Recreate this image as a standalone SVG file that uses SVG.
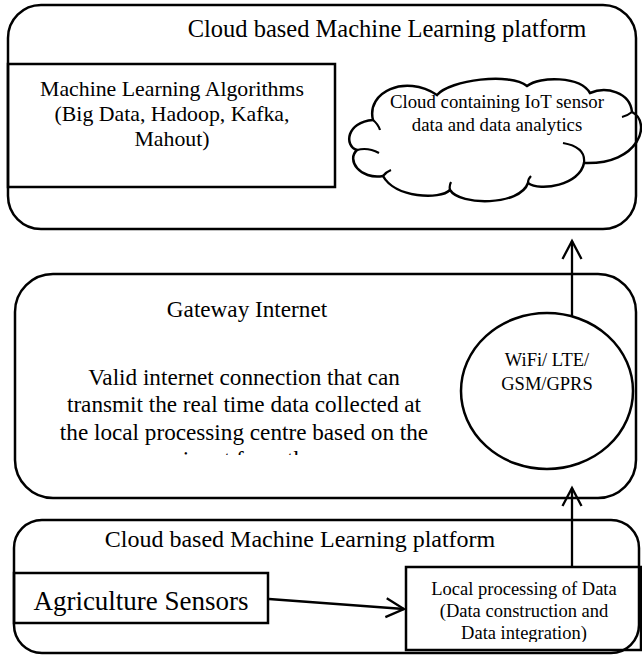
<svg xmlns="http://www.w3.org/2000/svg" width="642" height="655" viewBox="0 0 642 655">
  <style>
    .box { fill: none; stroke: #000; stroke-width: 2.5; }
    .seam { fill: none; stroke: #000; stroke-width: 2.2; }
    .wire { fill: none; stroke: #000; stroke-width: 2.3; }
    .t { font-family: "Liberation Serif", "Times New Roman", serif; fill: #000; text-anchor: middle; }
  </style>
  <defs>
    <marker id="vhead" viewBox="-21 -12 24 24" refX="0" refY="0" markerWidth="24" markerHeight="24" markerUnits="userSpaceOnUse" orient="auto">
      <path d="M-18,-9.5 L0,0 L-18,9.5" fill="none" stroke="#000" stroke-width="2.3"/>
    </marker>
    <clipPath id="bodyClip">
      <rect x="20" y="330" width="440" height="125"/>
    </clipPath>
    <clipPath id="localClip">
      <rect x="406" y="567" width="236" height="75"/>
    </clipPath>
  </defs>
  <rect width="642" height="655" fill="#fff"/>

  <!-- upper tier: cloud ML platform -->
  <g id="ml-platform">
    <rect class="box" x="8" y="5" width="628" height="224" rx="33"/>
    <text class="t" x="387" y="37" font-size="24.5">Cloud based Machine Learning platform</text>
  </g>
  <g id="ml-algorithms">
    <rect class="box" x="8" y="64" width="327" height="123"/>
    <text class="t" x="172" y="96" font-size="21.8">Machine Learning Algorithms</text>
    <text class="t" x="172" y="121" font-size="21.8">(Big Data, Hadoop, Kafka,</text>
    <text class="t" x="172" y="146" font-size="21.8">Mahout)</text>
  </g>
  <g id="iot-cloud">
    <path class="box" d="M373,120 C366,92 405,74 437,95 C450,80 510,72 527,86 C540,76 580,76 590,93 C606,86 630,92 632,112 C652,122 640,165 584,163 C580,185 540,192 528,183 C520,206 460,206 450,190 C440,200 395,198 383,176 C360,180 346,160 357,150 C344,146 346,122 373,120 Z"/>
    <path class="seam" d="M357,150 Q368,147 379,153 M383,176 Q386,172 391,170 M450,190 Q449,186 451,182 M528,183 Q528,179 531,176 M563,143 Q586,147 584,163 M373,120 Q378,124 380,130 M632,112 Q627,116 622,117"/>
    <text class="t" x="497" y="108" font-size="18.8">Cloud containing IoT sensor</text>
    <text class="t" x="497" y="131" font-size="18.8">data and data analytics</text>
  </g>

  <!-- middle tier: gateway -->
  <g id="gateway">
    <rect class="box" x="15" y="274" width="621" height="224" rx="38"/>
    <text class="t" x="247" y="317" font-size="23.2">Gateway Internet</text>
    <g clip-path="url(#bodyClip)">
      <text class="t" x="244" y="385" font-size="23.2">Valid internet connection that can</text>
      <text class="t" x="244" y="412" font-size="23.2">transmit the real time data collected at</text>
      <text class="t" x="244" y="440" font-size="23.2">the local processing centre based on the</text>
      <text class="t" x="249" y="467" font-size="23.2">input from the</text>
    </g>
  </g>
  <g id="wireless">
    <ellipse class="box" cx="547" cy="391" rx="86" ry="78"/>
    <text class="t" x="547" y="366" font-size="18.5">WiFi/ LTE/</text>
    <text class="t" x="547" y="390" font-size="18.5">GSM/GPRS</text>
  </g>

  <!-- lower tier: field sensing -->
  <g id="field-platform">
    <rect class="box" x="14" y="520" width="625" height="133" rx="28"/>
    <text class="t" x="300" y="547" font-size="24">Cloud based Machine Learning platform</text>
  </g>
  <g id="agri-sensors">
    <rect class="box" x="14" y="573" width="254" height="50"/>
    <text class="t" x="141" y="610" font-size="27">Agriculture Sensors</text>
  </g>
  <g id="local-processing">
    <rect class="box" fill="#fff" x="406" y="567" width="235" height="83"/>
    <g clip-path="url(#localClip)">
      <text class="t" x="524" y="595" font-size="18.5">Local processing of Data</text>
      <text class="t" x="524" y="617" font-size="18.5">(Data construction and</text>
      <text class="t" x="524" y="639" font-size="18.5">Data integration)</text>
    </g>
  </g>

  <!-- connectors -->
  <g id="connectors">
    <line class="wire" x1="269" y1="599" x2="404" y2="609" marker-end="url(#vhead)"/>
    <line class="wire" x1="572" y1="567" x2="572" y2="488" marker-end="url(#vhead)"/>
    <line class="wire" x1="572" y1="316" x2="572" y2="241" marker-end="url(#vhead)"/>
  </g>
</svg>
